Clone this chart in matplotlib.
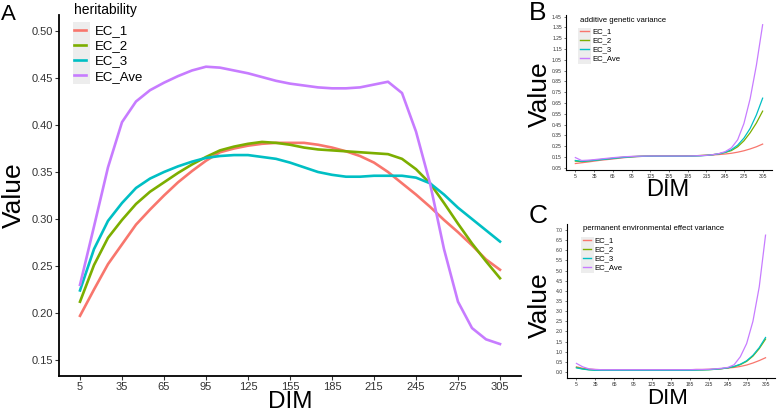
import numpy as np
import matplotlib
matplotlib.use("Agg")
import matplotlib.pyplot as plt
from matplotlib.patches import Rectangle

plt.rcParams['font.family'] = ['Liberation Sans', 'DejaVu Sans']

# x positions (days in milk)
dim = list(range(5, 306, 10))
tick_dim = list(range(5, 306, 30))
series = ['EC_1', 'EC_2', 'EC_3', 'EC_Ave']
colors = ['#F8766D', '#7CAE00', '#00BFC4', '#C77CFF']

# panel A: heritability
h2_ec1 = [0.197, 0.225, 0.252, 0.273, 0.294, 0.310, 0.325, 0.339, 0.351, 0.362, 0.371,
          0.375, 0.378, 0.380, 0.381, 0.381, 0.381, 0.379, 0.376, 0.372, 0.367, 0.360,
          0.350, 0.338, 0.326, 0.313, 0.299, 0.286, 0.272, 0.257, 0.246]
h2_ec2 = [0.212, 0.251, 0.280, 0.299, 0.316, 0.329, 0.339, 0.349, 0.358, 0.366, 0.373,
          0.377, 0.380, 0.382, 0.381, 0.379, 0.376, 0.374, 0.373, 0.372, 0.371, 0.370,
          0.369, 0.364, 0.353, 0.338, 0.317, 0.295, 0.274, 0.255, 0.237]
h2_ec3 = [0.224, 0.268, 0.298, 0.317, 0.333, 0.343, 0.350, 0.356, 0.361, 0.365, 0.367,
          0.368, 0.368, 0.366, 0.364, 0.360, 0.355, 0.350, 0.347, 0.345, 0.345, 0.346,
          0.346, 0.346, 0.344, 0.338, 0.326, 0.312, 0.300, 0.288, 0.276]
h2_ave = [0.230, 0.292, 0.355, 0.403, 0.425, 0.437, 0.445, 0.452, 0.458, 0.462, 0.461,
          0.458, 0.455, 0.451, 0.447, 0.444, 0.442, 0.440, 0.439, 0.439, 0.440, 0.443,
          0.446, 0.434, 0.393, 0.338, 0.268, 0.212, 0.184, 0.172, 0.167]

# panel B: additive genetic variance
va_ec1 = [0.090, 0.097, 0.104, 0.112, 0.120, 0.126, 0.132, 0.139, 0.145, 0.150, 0.154,
          0.157, 0.159, 0.160, 0.160, 0.160, 0.160, 0.160, 0.161, 0.162, 0.164, 0.166,
          0.169, 0.173, 0.178, 0.185, 0.195, 0.208, 0.225, 0.245, 0.270]
va_ec2 = [0.112, 0.108, 0.114, 0.120, 0.127, 0.133, 0.139, 0.145, 0.150, 0.154, 0.157,
          0.159, 0.160, 0.161, 0.161, 0.161, 0.161, 0.161, 0.161, 0.162, 0.164, 0.167,
          0.172, 0.180, 0.192, 0.210, 0.245, 0.300, 0.375, 0.465, 0.575]
va_ec3 = [0.118, 0.110, 0.114, 0.119, 0.125, 0.131, 0.137, 0.143, 0.148, 0.152, 0.155,
          0.157, 0.158, 0.158, 0.158, 0.158, 0.158, 0.158, 0.158, 0.159, 0.161, 0.165,
          0.171, 0.180, 0.194, 0.218, 0.260, 0.325, 0.415, 0.540, 0.695]
va_ave = [0.145, 0.118, 0.121, 0.126, 0.132, 0.138, 0.144, 0.149, 0.153, 0.156, 0.158,
          0.159, 0.160, 0.160, 0.160, 0.160, 0.160, 0.160, 0.160, 0.161, 0.163, 0.166,
          0.172, 0.182, 0.200, 0.235, 0.310, 0.460, 0.690, 1.000, 1.375]

# panel C: permanent environmental effect variance
vp_ec1 = [0.25, 0.18, 0.14, 0.12, 0.11, 0.11, 0.11, 0.11, 0.11, 0.11, 0.11,
          0.11, 0.11, 0.11, 0.11, 0.11, 0.11, 0.11, 0.11, 0.12, 0.12, 0.13,
          0.14, 0.16, 0.19, 0.22, 0.27, 0.34, 0.44, 0.56, 0.70]
vp_ec2 = [0.22, 0.15, 0.11, 0.09, 0.09, 0.09, 0.09, 0.09, 0.09, 0.09, 0.09,
          0.09, 0.09, 0.09, 0.09, 0.09, 0.09, 0.09, 0.09, 0.10, 0.10, 0.11,
          0.13, 0.16, 0.20, 0.26, 0.36, 0.52, 0.78, 1.15, 1.62]
vp_ec3 = [0.20, 0.14, 0.10, 0.08, 0.08, 0.08, 0.08, 0.08, 0.08, 0.08, 0.08,
          0.08, 0.08, 0.08, 0.08, 0.08, 0.08, 0.08, 0.08, 0.09, 0.10, 0.11,
          0.13, 0.16, 0.20, 0.27, 0.38, 0.55, 0.82, 1.20, 1.70]
vp_ave = [0.42, 0.25, 0.15, 0.12, 0.11, 0.11, 0.11, 0.11, 0.11, 0.11, 0.11,
          0.11, 0.11, 0.11, 0.11, 0.11, 0.11, 0.11, 0.11, 0.12, 0.12, 0.13,
          0.15, 0.18, 0.22, 0.35, 0.75, 1.40, 2.50, 4.20, 6.75]

W, H = 777, 412


def rect(l, t, r, b):
    # pixel box -> figure fraction
    return [l / W, 1 - b / H, (r - l) / W, (b - t) / H]


def pt(x, y):
    return x / W, 1 - y / H


def grey_box(l, t, r, b):
    fig.patches.append(Rectangle(pt(l, b), (r - l) / W, (b - t) / H,
                                 transform=fig.transFigure, facecolor='#EDEDED',
                                 edgecolor='none', zorder=-5))


fig = plt.figure(figsize=(7.77, 4.12), dpi=100)

axA = fig.add_axes(rect(59, 15, 521, 376))
axB = fig.add_axes(rect(566, 15, 772, 170))
axC = fig.add_axes(rect(567, 224, 775, 378))
for ax in (axA, axB, axC):
    ax.patch.set_alpha(0)

for ys, c, lab in zip([h2_ec1, h2_ec2, h2_ec3, h2_ave], colors, series):
    axA.plot(dim, ys, color=c, lw=1.9, label=lab, solid_joinstyle='round')
for ys, c, lab in zip([va_ec1, va_ec2, va_ec3, va_ave], colors, series):
    axB.plot(dim, ys, color=c, lw=0.9, label=lab, solid_joinstyle='round')
for ys, c, lab in zip([vp_ec1, vp_ec2, vp_ec3, vp_ave], colors, series):
    axC.plot(dim, ys, color=c, lw=0.9, label=lab, solid_joinstyle='round')

axA.set_ylim(0.133, 0.517)
axA.set_yticks(np.arange(0.15, 0.501, 0.05))
axA.set_yticklabels(['%.2f' % v for v in np.arange(0.15, 0.501, 0.05)])
axB.set_ylim(0.03, 1.465)
axB.set_yticks(np.arange(0.05, 1.451, 0.1))
axB.set_yticklabels(['%.2f' % v for v in np.arange(0.05, 1.451, 0.1)])
axC.set_ylim(-0.3, 7.3)
axC.set_yticks(np.arange(0, 7.01, 0.5))
axC.set_yticklabels(['%.1f' % v for v in np.arange(0, 7.01, 0.5)])

for ax, lw, fs, tl in [(axA, 1.3, 8, 3), (axB, 0.8, 3.6, 1.5), (axC, 0.8, 3.6, 1.5)]:
    ax.set_xlim(-10, 320)
    ax.set_xticks(tick_dim)
    ax.spines['top'].set_visible(False)
    ax.spines['right'].set_visible(False)
    ax.spines['left'].set_linewidth(lw)
    ax.spines['bottom'].set_linewidth(lw)
    ax.tick_params(labelsize=fs, length=tl, width=lw * 0.6, pad=1.5,
                   colors='#333333', labelcolor='#333333')

# panel letters and axis titles
fig.text(*pt(8, 14), 'A', fontsize=16, ha='center', va='center')
fig.text(*pt(538, 13), 'B', fontsize=19, ha='center', va='center')
fig.text(*pt(538, 216), 'C', fontsize=19, ha='center', va='center')
fig.text(*pt(14, 195), 'Value', fontsize=19, rotation=90, ha='center', va='center')
fig.text(*pt(290, 402), 'DIM', fontsize=17.5, ha='center', va='center')
fig.text(*pt(540, 94), 'Value', fontsize=19, rotation=90, ha='center', va='center')
fig.text(*pt(668, 190), 'DIM', fontsize=17, ha='center', va='center')
fig.text(*pt(540, 305), 'Value', fontsize=19, rotation=90, ha='center', va='center')
fig.text(*pt(668, 399), 'DIM', fontsize=16, ha='center', va='center')

# legends: titles as plain text, grey key column behind the handles
fig.text(*pt(74, 10), 'heritability', fontsize=10, ha='left', va='center')
grey_box(73, 22, 90, 84)
axA.legend(loc='upper left', bbox_to_anchor=pt(74, 25), bbox_transform=fig.transFigure,
           frameon=False, fontsize=9.5, handlelength=0.9, handletextpad=0.65,
           labelspacing=0.22, borderpad=0, borderaxespad=0)

fig.text(*pt(580, 20), 'additive genetic variance', fontsize=5.6, ha='left', va='center')
grey_box(578, 28, 591, 64)
legB = axB.legend(loc='upper left', bbox_to_anchor=pt(580, 28),
                  bbox_transform=fig.transFigure, frameon=False, fontsize=5.6,
                  handlelength=1.15, handletextpad=0.5, labelspacing=0.2,
                  borderpad=0, borderaxespad=0)

fig.text(*pt(583, 228), 'permanent environmental effect variance', fontsize=5.6,
         ha='left', va='center')
grey_box(581, 237, 594, 273)
legC = axC.legend(loc='upper left', bbox_to_anchor=pt(583, 237),
                  bbox_transform=fig.transFigure, frameon=False, fontsize=5.6,
                  handlelength=1.0, handletextpad=0.5, labelspacing=0.2,
                  borderpad=0, borderaxespad=0)
for leg in (legB, legC):
    for l in leg.get_lines():
        l.set_linewidth(1.0)

fig.savefig('out.png', dpi=100)
